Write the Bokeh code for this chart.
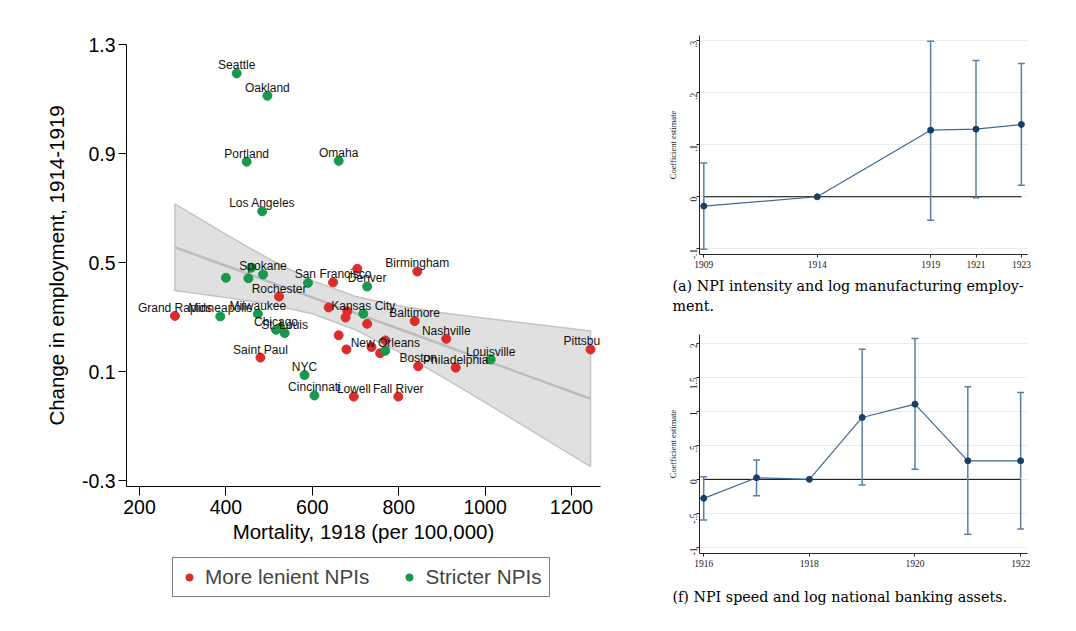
import math
from bokeh.plotting import figure
from bokeh.models import ColumnDataSource, FixedTicker, Legend, LegendItem, Title, Range1d
from bokeh.layouts import row, column
from bokeh.embed import file_html
from bokeh.resources import INLINE
from bokeh.core.properties import value

# ---------------- data: left scatter ----------------
city = ["Seattle", "Oakland", "Portland", "Omaha", "Los Angeles", "Spokane", "", "", "",
        "San Francisco", "", "Birmingham", "", "Denver", "Rochester", "Grand Rapids",
        "Minneapolis", "Milwaukee", "Chicago", "", "St. Louis", "Saint Paul", "NYC",
        "Cincinnati", "", "", "", "Kansas City", "", "Baltimore", "", "", "Nashville",
        "", "", "", "New Orleans", "Boston", "Philadelphia", "Louisville", "Pittsburgh",
        "Lowell", "Fall River"]
mortality = [425, 496, 448, 661, 484, 486, 459, 400, 452,
             648, 704, 843, 590, 727, 523, 282,
             387, 474, 516, 526, 536, 480, 582,
             605, 638, 681, 677, 718, 727, 837, 661, 769, 910,
             679, 737, 757, 769, 845, 932, 1013, 1244,
             696, 799]
emp_change = [1.194, 1.112, 0.870, 0.873, 0.688, 0.456, 0.481, 0.444, 0.442,
              0.427, 0.477, 0.467, 0.425, 0.412, 0.375, 0.304,
              0.302, 0.312, 0.253, 0.260, 0.241, 0.151, 0.087,
              0.012, 0.335, 0.321, 0.298, 0.312, 0.275, 0.285, 0.233, 0.214, 0.220,
              0.181, 0.190, 0.167, 0.176, 0.119, 0.114, 0.144, 0.181,
              0.008, 0.008]
npi_group = ["S", "S", "S", "S", "S", "S", "S", "S", "S",
             "L", "L", "L", "S", "S", "L", "L",
             "S", "S", "S", "S", "S", "L", "S",
             "S", "L", "L", "L", "S", "L", "L", "L", "L", "L",
             "L", "L", "L", "S", "L", "L", "S", "L",
             "L", "L"]
group_names = ["More lenient NPIs", "Stricter NPIs"]

# fitted line and 95% CI band
fit_x = [282, 400, 500, 600, 700, 800, 900, 1000, 1100, 1244]
fit_y = [0.556, 0.488, 0.430, 0.372, 0.314, 0.257, 0.199, 0.141, 0.083, 0.000]
ci_hi = [0.715, 0.603, 0.513, 0.433, 0.375, 0.341, 0.316, 0.295, 0.276, 0.249]
ci_lo = [0.397, 0.372, 0.347, 0.312, 0.253, 0.172, 0.081, -0.013, -0.110, -0.249]

y_ticks_left = [-0.3, 0.1, 0.5, 0.9, 1.3]
y_tick_labels_left = ["-0.3", "0.1", "0.5", "0.9", "1.3"]
x_ticks_left = [200, 400, 600, 800, 1000, 1200]

# ---------------- data: panel (a) ----------------
nan = float("nan")
years_a = [1909, 1914, 1919, 1921, 1923]
coef_a = [-0.018, 0.0, 0.128, 0.130, 0.139]
lo_a = [-0.101, nan, -0.045, -0.002, 0.022]
hi_a = [0.065, nan, 0.299, 0.262, 0.256]
yticks_a = [-0.1, 0.0, 0.1, 0.2, 0.3]
ylabels_a = ["-.1", "0", ".1", ".2", ".3"]

# ---------------- data: panel (f) ----------------
years_f = [1916, 1917, 1918, 1919, 1920, 1921, 1922]
coef_f = [-0.279, 0.024, 0.0, 0.910, 1.106, 0.273, 0.273]
lo_f = [-0.598, -0.241, nan, -0.084, 0.147, -0.808, -0.730]
hi_f = [0.038, 0.283, nan, 1.913, 2.070, 1.360, 1.278]
yticks_f = [-1.0, -0.5, 0.0, 0.5, 1.0, 1.5, 2.0]
ylabels_f = ["-1", "-.5", "0", ".5", "1", "1.5", "2"]
xticks_f = [1916, 1918, 1920, 1922]

RED = "#dc2b2b"
GREEN = "#17994b"
SANS = "Liberation Sans"
SERIF = "Liberation Serif"


def hide_title(f):
    f.title.text_font_size = "0px"
    f.title.standoff = 0
    f.title.visible = False


# ---------------- left figure ----------------
p = figure(width=658, height=550, x_range=Range1d(169.9, 1267.1), y_range=Range1d(-0.322, 1.3),
           output_backend="svg", toolbar_location=None,
           min_border_left=126, min_border_right=58, min_border_top=44, min_border_bottom=64)
hide_title(p)
p.outline_line_color = None
p.grid.visible = False

band_x = fit_x + fit_x[::-1]
band_y = ci_hi + ci_lo[::-1]
p.patch(band_x, band_y, fill_color="#e0e0e0", line_color="#c4c4c4", line_width=1.5)
p.line(fit_x, fit_y, line_color="#bcbcbc", line_width=2.5)

src = ColumnDataSource(dict(x=mortality, y=emp_change, name=city, g=npi_group))
lx = [m for m, g in zip(mortality, npi_group) if g == "L"]
ly = [e for e, g in zip(emp_change, npi_group) if g == "L"]
sx = [m for m, g in zip(mortality, npi_group) if g == "S"]
sy = [e for e, g in zip(emp_change, npi_group) if g == "S"]
p.scatter(lx, ly, size=9, fill_color=RED, line_color=RED)
p.scatter(sx, sy, size=9, fill_color=GREEN, line_color=GREEN)
p.text(x="x", y="y", text="name", source=src, text_align="center", text_baseline="alphabetic",
       y_offset=-8, text_font=value(SANS), text_font_size="12px", text_color="#111111")

for ax in (p.xaxis[0], p.yaxis[0]):
    ax.axis_line_color = "black"
    ax.major_tick_line_color = "black"
    ax.minor_tick_line_color = None
    ax.major_tick_in = 0
    ax.major_label_text_font = SANS
    ax.major_label_text_font_size = "19.5px"
    ax.major_label_text_color = "black"
    ax.axis_label_text_font = SANS
    ax.axis_label_text_font_style = "normal"
    ax.axis_label_text_color = "black"
    ax.axis_label_text_font_size = "20.5px"
p.yaxis.ticker = FixedTicker(ticks=y_ticks_left)
p.yaxis.major_label_overrides = {t: s for t, s in zip(y_ticks_left, y_tick_labels_left)}
p.xaxis.ticker = FixedTicker(ticks=x_ticks_left)
p.yaxis.major_tick_out = 8
p.xaxis.major_tick_out = 9
p.yaxis.major_label_standoff = 3
p.xaxis.major_label_standoff = 4
p.yaxis.axis_label = "Change in employment, 1914-1919"
p.xaxis.axis_label = "Mortality, 1918 (per 100,000)"
p.yaxis.axis_label_standoff = 11
p.xaxis.axis_label_standoff = 3

# legend strip under the scatter (its frame is aligned with the scatter's frame)
lg = figure(width=658, height=60, x_range=Range1d(0, 1), y_range=Range1d(0, 1),
            output_backend="svg", toolbar_location=None,
            min_border_left=126, min_border_right=58, min_border_top=0, min_border_bottom=0)
hide_title(lg)
lg.axis.visible = False
lg.grid.visible = False
lg.outline_line_color = None
# same series, drawn outside this strip's visible range: only their legend swatches show
lr = lg.scatter(lx, ly, size=9, fill_color=RED, line_color=RED)
lgr = lg.scatter(sx, sy, size=9, fill_color=GREEN, line_color=GREEN)
legend = Legend(items=[LegendItem(label=group_names[0], renderers=[lr]),
                       LegendItem(label=group_names[1], renderers=[lgr])],
                orientation="horizontal", location=(46, 13),
                border_line_color="black", border_line_width=1, background_fill_color="white",
                label_text_font=SANS, label_text_font_size="20.7px",
                glyph_width=18, glyph_height=18, label_standoff=7, spacing=31,
                padding=7, margin=0)
lg.add_layout(legend, "center")


# ---------------- right panels ----------------
def coef_panel(width, height, xr, yr, borders, years, coef, lo, hi, xticks, yticks, ylabels,
               captions, cap_standoffs):
    f = figure(width=width, height=height, x_range=Range1d(*xr), y_range=Range1d(*yr),
               output_backend="svg", toolbar_location=None,
               min_border_left=borders[0], min_border_right=borders[1],
               min_border_top=borders[2], min_border_bottom=borders[3])
    hide_title(f)
    f.outline_line_color = None
    f.xgrid.visible = False
    f.ygrid.grid_line_color = "#e4edf0"
    f.ygrid.grid_line_width = 1
    f.ygrid.ticker = FixedTicker(ticks=yticks)
    f.line([years[0], years[-1]], [0, 0], line_color="black", line_width=1)
    f.segment(x0=years, y0=lo, x1=years, y1=hi, line_color="#5b7fa3", line_width=1.5)
    f.scatter(years, lo, marker="dash", size=7, line_color="#5b7fa3", line_width=1.5)
    f.scatter(years, hi, marker="dash", size=7, line_color="#5b7fa3", line_width=1.5)
    f.line(years, coef, line_color="#3d6a94", line_width=1.2)
    f.scatter(years, coef, size=6, fill_color="#1a3f66", line_color="#1a3f66")
    for ax in (f.xaxis[0], f.yaxis[0]):
        ax.axis_line_color = "#222222"
        ax.major_tick_line_color = "#222222"
        ax.minor_tick_line_color = None
        ax.major_tick_in = 0
        ax.major_tick_out = 3
        ax.major_label_text_font = SERIF
        ax.major_label_text_font_size = "9.5px"
        ax.major_label_text_color = "#222222"
        ax.major_label_standoff = 3
    f.xaxis.ticker = FixedTicker(ticks=xticks)
    f.yaxis.ticker = FixedTicker(ticks=yticks)
    f.yaxis.major_label_overrides = {t: s for t, s in zip(yticks, ylabels)}
    f.yaxis.major_label_orientation = math.pi / 2
    f.yaxis.axis_label = "Coefficient estimate"
    f.yaxis.axis_label_text_font = SERIF
    f.yaxis.axis_label_text_font_size = "8.5px"
    f.yaxis.axis_label_text_font_style = "normal"
    f.yaxis.axis_label_text_color = "#222222"
    f.yaxis.axis_label_standoff = 6
    for c, so in zip(captions, cap_standoffs):
        f.add_layout(Title(text=c, align="left", offset=-27, text_font="DejaVu Serif",
                           text_font_size="14.3px", text_font_style="normal", text_color="black",
                           standoff=so), "below")
    return f


fa = coef_panel(410, 318, (1908.81, 1923.27), (-0.111, 0.310), (41, 41, 35, 64),
                years_a, coef_a, lo_a, hi_a, years_a, yticks_a, ylabels_a,
                ["(a) NPI intensity and log manufacturing employ-", "ment."], [10, -5])
ff = coef_panel(410, 310, (1915.92, 1922.13), (-1.09, 2.13), (41, 41, 16, 75),
                years_f, coef_f, lo_f, hi_f, xticks_f, yticks_f, ylabels_f,
                ["(f) NPI speed and log national banking assets."], [34])

layout = row(column(p, lg), column(fa, ff))
open("out.html", "w").write(file_html(layout, INLINE))
